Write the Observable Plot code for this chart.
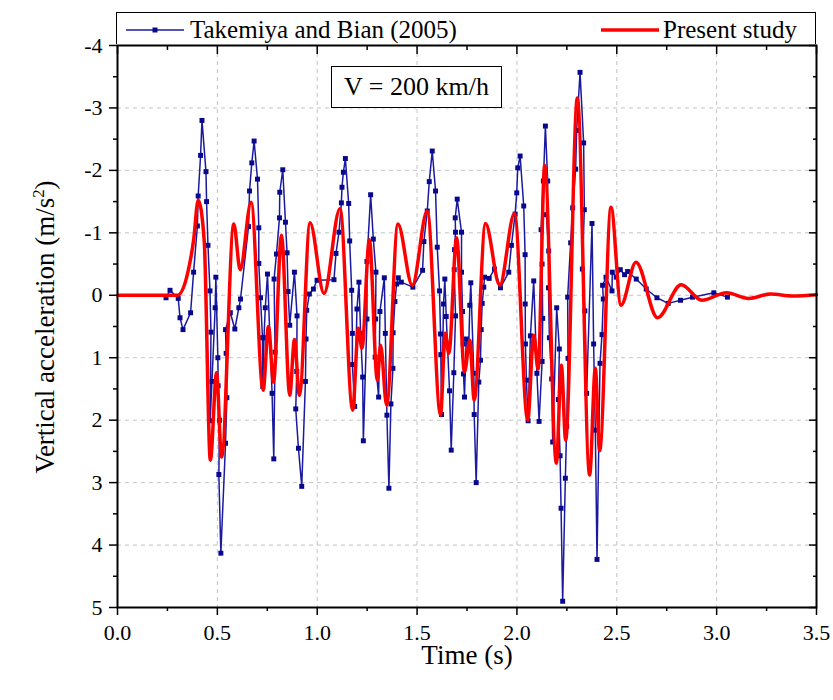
<!DOCTYPE html>
<html><head><meta charset="utf-8">
<script src="https://cdn.jsdelivr.net/npm/d3@7"></script>
<script src="https://cdn.jsdelivr.net/npm/@observablehq/plot@0.6"></script>
<style>
body{margin:0;background:#fff;}
#wrap{position:relative;width:833px;height:700px;font-family:"Liberation Serif","Times New Roman",serif;color:#000;}
#wrap svg text{font-family:"Liberation Serif","Times New Roman",serif !important;}
.abs{position:absolute;white-space:nowrap;}
</style></head>
<body><div id="wrap"></div>
<script>
const blueTime = [0.243,0.263,0.304,0.313,0.328,0.366,0.381,0.400,0.404,0.416,0.423,0.443,0.446,0.453,0.463,0.468,0.464,0.473,0.489,0.4925,0.5025,0.504,0.511,0.5075,0.5175,0.541,0.5475,0.544,0.541,0.565,0.5875,0.6075,0.616,0.656,0.661,0.6725,0.684,0.701,0.7075,0.7075,0.716,0.726,0.7275,0.7335,0.740,0.751,0.774,0.7825,0.789,0.784,0.796,0.811,0.8125,0.8275,0.841,0.849,0.854,0.8625,0.886,0.899,0.8975,0.8925,0.906,0.9225,0.941,0.944,0.9475,0.9605,0.981,0.999,1.084,1.094,1.109,1.121,1.124,1.131,1.141,1.1575,1.1625,1.1725,1.176,1.176,1.1875,1.199,1.209,1.2175,1.2275,1.231,1.249,1.249,1.2675,1.281,1.294,1.2925,1.29,1.3075,1.314,1.336,1.341,1.349,1.359,1.369,1.379,1.38,1.389,1.3975,1.406,1.421,1.479,1.5275,1.534,1.551,1.561,1.576,1.5925,1.601,1.6125,1.6175,1.619,1.6225,1.6325,1.639,1.646,1.6625,1.671,1.684,1.6925,1.686,1.6875,1.6925,1.691,1.701,1.7225,1.7225,1.7275,1.731,1.7325,1.7375,1.746,1.759,1.764,1.769,1.784,1.786,1.796,1.809,1.8175,1.821,1.826,1.834,1.8375,1.861,1.8875,1.9175,1.959,1.9725,1.991,1.999,2.004,2.016,2.034,2.041,2.0415,2.0425,2.0475,2.056,2.0675,2.084,2.1,2.111,2.126,2.129,2.126,2.121,2.1325,2.1425,2.154,2.1475,2.159,2.158,2.1625,2.174,2.179,2.199,2.2125,2.2075,2.216,2.221,2.229,2.2425,2.249,2.256,2.254,2.269,2.279,2.294,2.299,2.316,2.334,2.3375,2.3275,2.34,2.349,2.376,2.384,2.3925,2.401,2.416,2.426,2.4325,2.429,2.446,2.476,2.4775,2.4975,2.5175,2.539,2.554,2.5975,2.6475,2.701,2.7575,2.819,2.879,2.986,3.054];
const blueAccel = [0.04,-0.08,0.05,0.36,0.55,0.28,-0.37,-1.11,-1.59,-2.24,-2.80,-1.98,-1.50,-0.80,-0.07,0.59,2.01,1.38,0.20,-0.29,1.00,1.45,2.00,2.87,4.13,2.37,1.64,0.93,0.55,0.28,0.54,0.20,0.06,-1.10,-1.67,-2.12,-2.47,-1.86,-1.08,-0.51,0.04,0.68,1.46,0.68,0.20,-0.34,1.57,2.62,0.91,-0.26,-0.66,-1.24,-1.65,-2.01,-1.17,-0.68,-0.06,0.48,-0.37,0.33,1.22,1.82,2.45,3.06,1.38,0.70,0.24,-0.02,-0.10,-0.24,-0.25,-0.67,-1.01,-1.48,-1.73,-1.97,-2.19,-1.47,-0.87,-0.08,0.61,1.11,1.78,0.22,-0.21,0.61,1.31,2.33,0.38,-0.54,-1.61,-0.90,-0.37,0.38,0.99,1.63,0.26,-0.28,0.61,1.92,3.09,1.74,1.17,0.60,0.10,-0.18,-0.28,-0.21,-0.13,-0.40,-0.86,-1.35,-1.82,-2.31,-1.67,-0.77,-0.07,0.62,0.95,1.91,0.14,-0.26,0.34,1.53,2.48,1.24,0.33,-0.41,-0.73,-1.01,-1.24,-1.54,-1.01,-0.37,0.26,0.78,1.26,1.63,0.70,0.79,0.16,-0.20,1.25,1.91,3.00,1.39,1.04,0.55,0.13,-0.13,-0.29,-0.27,-0.42,-0.12,-0.37,-0.80,-1.30,-1.64,-2.04,-2.23,-1.43,-0.65,0.14,0.78,1.36,2.01,0.65,-0.23,1.25,2.02,1.06,0.37,-0.50,-1.05,-1.83,-2.71,-1.83,-1.29,-0.71,-0.12,0.68,1.34,2.35,0.20,0.86,1.67,2.57,3.41,4.90,2.93,2.10,1.01,0.03,-0.84,-1.40,-2.02,-2.64,-3.57,-2.44,-1.37,-0.42,0.25,1.57,-1.15,0.78,2.16,4.23,1.09,0.63,0.06,-0.16,-0.29,-0.07,-0.37,-0.29,-0.41,-0.33,-0.38,-0.26,-0.10,0.04,0.13,0.08,0.03,-0.04,0.03];

// Present study — read turning points of the smooth curve
const redTime = [0,0.30,0.351,0.381,0.404,0.434,0.465,0.496,0.521,0.5825,0.614,0.669,0.729,0.756,0.781,0.821,0.8625,0.886,0.911,0.964,1.034,1.114,1.1775,1.206,1.224,1.261,1.301,1.3175,1.3475,1.404,1.476,1.551,1.6175,1.641,1.659,1.698,1.7375,1.764,1.786,1.8425,1.914,1.9875,2.054,2.084,2.106,2.139,2.1975,2.2225,2.244,2.3025,2.364,2.3925,2.414,2.471,2.521,2.596,2.704,2.8225,2.926,3.05,3.16,3.27,3.38,3.5];
const redAccel = [0,0,-0.35,-0.88,-1.52,-0.88,2.64,1.24,2.59,-1.14,-0.41,-1.49,1.52,0.50,1.39,-0.96,1.60,0.71,1.60,-1.16,-0.03,-1.39,1.84,0.53,0.85,-0.89,1.36,0.80,1.76,-1.14,-0.16,-1.35,1.92,0.61,0.93,-0.92,1.23,0.72,1.68,-1.15,-0.16,-1.31,2.00,0.64,1.18,-2.08,2.69,1.12,2.32,-3.16,2.88,1.17,2.49,-1.41,0.16,-0.53,0.36,-0.17,0.08,-0.04,0.05,-0.02,0.01,-0.01];

const xMajor = [0,0.5,1.0,1.5,2.0,2.5,3.0,3.5];
const xMinor = [0.25,0.75,1.25,1.75,2.25,2.75,3.25];
const yMajor = [-4,-3,-2,-1,0,1,2,3,4,5];
const yMinor = [-3.5,-2.5,-1.5,-0.5,0.5,1.5,2.5,3.5,4.5];
const xGrid = [0.5,1.0,1.5,2.0,2.5,3.0];
const yGrid = [-3,-2,-1,0,1,2,3,4];

const blue = blueTime.map((t,i)=>({t, a: blueAccel[i]}));
const red = redTime.map((t,i)=>({t, a: redAccel[i]}));

const SERIF = '"Liberation Serif","Times New Roman",serif';
const BLUE_LINE = "#1a1aa0", BLUE_DOT = "#08088f", RED = "#ff0000";
const gridStyle = {stroke:"#c4c4c4", strokeOpacity:1, strokeWidth:1, strokeDasharray:"4,4"};
const none = () => "";

const chart = Plot.plot({
  width: 833, height: 700,
  marginLeft: 117, marginRight: 17, marginTop: 45, marginBottom: 93,
  style: {fontFamily: SERIF, fontSize: "22px", color: "#000", background: "transparent", overflow: "visible"},
  x: {domain: [0, 3.5]},
  y: {domain: [5, -4]},
  marks: [
    Plot.gridX(xGrid, gridStyle),
    Plot.gridY(yGrid, gridStyle),
    Plot.line(blue, {x: "t", y: "a", stroke: BLUE_LINE, strokeWidth: 1.5}),
    Plot.dot(blue, {x: "t", y: "a", symbol: "square", r: 2.8, fill: BLUE_DOT, stroke: "none"}),
    Plot.line(red, {x: "t", y: "a", curve: "monotone-x", stroke: RED, strokeWidth: 3.5}),
    Plot.axisX(xMajor, {anchor: "bottom", tickSize: 8, tickPadding: 9, tickFormat: d => d.toFixed(1), label: null, strokeWidth: 1.5, fontSize: 22, fontFamily: SERIF}),
    Plot.axisX(xMinor, {anchor: "bottom", tickSize: 4, tickFormat: none, label: null, strokeWidth: 1.5}),
    Plot.axisX(xMajor, {anchor: "top", tickSize: -8, tickFormat: none, label: null, strokeWidth: 1.5}),
    Plot.axisX(xMinor, {anchor: "top", tickSize: -4, tickFormat: none, label: null, strokeWidth: 1.5}),
    Plot.axisY(yMajor, {anchor: "left", tickSize: 8, tickPadding: 7, tickFormat: d => String(d), label: null, strokeWidth: 1.5, fontSize: 22, fontFamily: SERIF}),
    Plot.axisY(yMinor, {anchor: "left", tickSize: 4, tickFormat: none, label: null, strokeWidth: 1.5}),
    Plot.axisY(yMajor, {anchor: "right", tickSize: -8, tickFormat: none, label: null, strokeWidth: 1.5}),
    Plot.axisY(yMinor, {anchor: "right", tickSize: -4, tickFormat: none, label: null, strokeWidth: 1.5}),
    Plot.frame({stroke: "#000", strokeWidth: 2})
  ]
});
chart.style.position = "absolute";
chart.style.left = "0px";
chart.style.top = "0px";
const wrap = document.getElementById("wrap");
wrap.appendChild(chart);

// Legend (above the frame)
const legend = document.createElement("div");
legend.className = "abs";
legend.style.cssText = "left:116px;top:12px;width:698px;height:31px;border:1.5px solid #000;border-bottom:none;background:#fff;";
legend.innerHTML = `
<svg width="698" height="31" style="position:absolute;left:0;top:0">
  <line x1="9" x2="67" y1="17" y2="17" stroke="${BLUE_LINE}" stroke-width="1.5"/>
  <rect x="35.5" y="14.5" width="5" height="5" fill="${BLUE_DOT}"/>
  <line x1="484" x2="542" y1="17" y2="17" stroke="${RED}" stroke-width="3.5"/>
</svg>
<span class="abs" style="left:73px;top:0px;font-size:25px;line-height:33px;">Takemiya and Bian (2005)</span>
<span class="abs" style="left:546px;top:0px;font-size:25px;line-height:33px;">Present study</span>`;
wrap.appendChild(legend);

// Speed annotation box
const vbox = document.createElement("div");
vbox.className = "abs";
vbox.style.cssText = "left:331px;top:66px;width:169px;height:40px;border:1.5px solid #000;background:#fff;font-size:26px;line-height:40px;text-align:center;";
vbox.textContent = "V = 200 km/h";
wrap.appendChild(vbox);

// Axis titles
const xt = document.createElement("div");
xt.className = "abs";
xt.style.cssText = "left:467px;top:655px;transform:translate(-50%,-50%);font-size:27px;";
xt.textContent = "Time (s)";
wrap.appendChild(xt);

const yt = document.createElement("div");
yt.className = "abs";
yt.style.cssText = "left:45px;top:327px;transform:translate(-50%,-50%) rotate(-90deg);font-size:27px;";
yt.innerHTML = 'Vertical acceleration (m/s<sup style="font-size:0.62em;vertical-align:0.55em;line-height:0">2</sup>)';
wrap.appendChild(yt);
</script>
</body></html>
